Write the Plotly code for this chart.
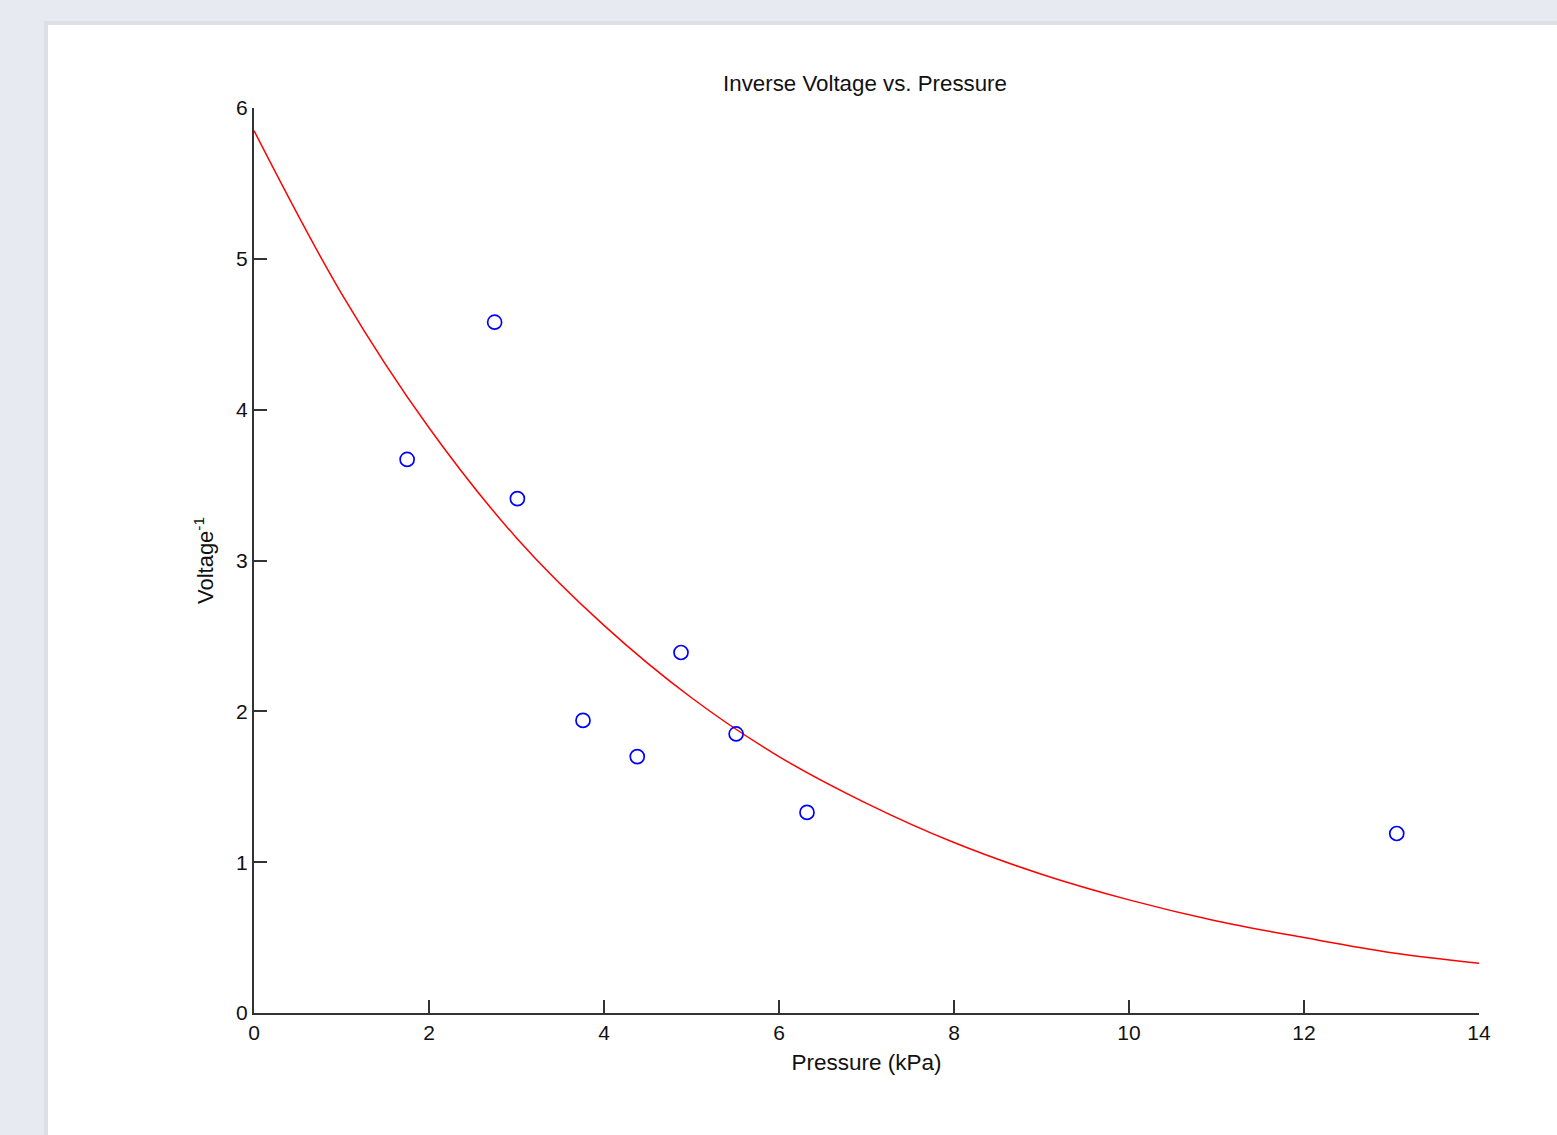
import plotly.graph_objects as go

# Measured data (pressure in kPa, inverse voltage)
pressure = [1.75, 2.75, 3.01, 3.76, 4.38, 4.88, 5.51, 6.32, 13.06]
inv_voltage = [3.67, 4.58, 3.41, 1.94, 1.70, 2.39, 1.85, 1.33, 1.19]

# Fitted curve
fit_x = [0, 1, 2, 3, 4, 5, 6, 7, 8, 9, 10, 11, 12, 13, 14]
fit_y = [5.85, 4.77, 3.88, 3.15, 2.57, 2.09, 1.70, 1.39, 1.13, 0.92, 0.75, 0.61, 0.50, 0.40, 0.33]

x_ticks = [0, 2, 4, 6, 8, 10, 12, 14]
y_ticks = [0, 1, 2, 3, 4, 5, 6]

W, H = 1557, 1135
L, R, T, B = 254, 1479, 108, 1013

def px(xp):
    return (xp - L) / (R - L)

def py(yp):
    return (B - yp) / (B - T)

FONT = "Liberation Sans, Arial, sans-serif"
TXT = "#111111"

fig = go.Figure()
fig.add_trace(go.Scatter(x=fit_x, y=fit_y, mode="lines",
                         line=dict(color="#ff0000", width=1.5, shape="spline"),
                         showlegend=False, hoverinfo="skip"))
fig.add_trace(go.Scatter(x=pressure, y=inv_voltage, mode="markers",
                         marker=dict(symbol="circle-open", size=14, color="#0000ff",
                                     line=dict(width=1.7, color="#0000ff")),
                         showlegend=False, cliponaxis=False))

# window background: shadow + white figure area
fig.add_shape(type="rect", xref="paper", yref="paper", layer="below",
              x0=px(44), x1=px(W + 10), y0=py(21), y1=py(H + 10),
              fillcolor="#dcdfe6", line=dict(width=0))
fig.add_shape(type="rect", xref="paper", yref="paper", layer="below",
              x0=px(48), x1=px(W + 10), y0=py(25), y1=py(H + 10),
              fillcolor="#ffffff", line=dict(width=0))

axis_common = dict(showgrid=False, zeroline=False, showline=True, linecolor="#333333",
                    linewidth=2, ticks="inside", ticklen=13, tickwidth=1.5,
                    tickcolor="#333333", mirror=False,
                    tickfont=dict(family=FONT, size=21, color=TXT))

fig.update_xaxes(range=[0, 14], tickvals=x_ticks, ticktext=[str(v) for v in x_ticks],
                 title=dict(text="Pressure (kPa)", font=dict(family=FONT, size=22.5, color=TXT),
                            standoff=11),
                 **axis_common)
fig.update_yaxes(range=[0, 6], tickvals=y_ticks, ticktext=[str(v) for v in y_ticks],
                 title=dict(text="Voltage<sup>-1</sup>", font=dict(family=FONT, size=22, color=TXT),
                            standoff=16),
                 **axis_common)

fig.update_layout(
    width=W, height=H,
    margin=dict(l=L, r=W - R, t=T, b=H - B, pad=0),
    paper_bgcolor="#e7eaf0", plot_bgcolor="rgba(0,0,0,0)",
    title=dict(text="Inverse Voltage vs. Pressure", x=865 / W, xanchor="center",
               xref="container", yref="container", y=1 - 83 / H, yanchor="middle",
               font=dict(family=FONT, size=22.3, color=TXT)),
)

fig.write_html("out.html", config={"displayModeBar": False},
               post_script="document.body.style.margin='0';document.body.style.background='#e7eaf0';")
